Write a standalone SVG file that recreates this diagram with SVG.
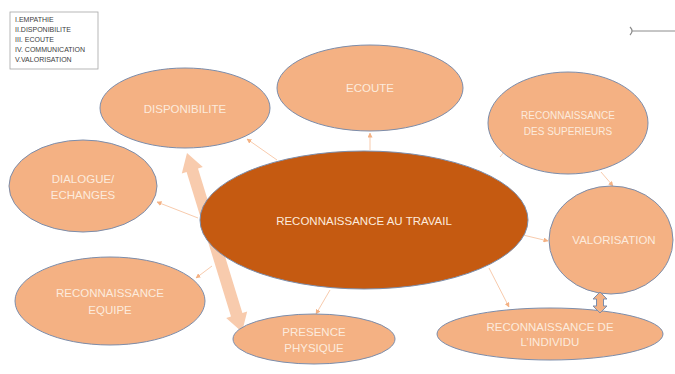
<svg xmlns="http://www.w3.org/2000/svg" width="675" height="374" viewBox="0 0 675 374">
<defs>
<style>
.node{fill:#F4B183;stroke:#7C8DAB;stroke-width:1}
.main{fill:#C55A11;stroke:#7C8DAB;stroke-width:1}
.t{font-family:"Liberation Sans",Arial,sans-serif;font-size:11.5px;fill:#FCEBDD;text-anchor:middle}
.leg{font-family:"Liberation Sans",Arial,sans-serif;font-size:7px;fill:#404040}
.con{stroke:#F8CBAD;stroke-width:1;fill:none;marker-end:url(#ah)}
</style>
<marker id="ah" viewBox="0 0 10 10" refX="9" refY="5" markerWidth="5" markerHeight="5" orient="auto" markerUnits="userSpaceOnUse">
<path d="M0,0 L10,5 L0,10 z" fill="#F4B183"/>
</marker>
</defs>
<rect width="675" height="374" fill="#FFFFFF"/>
<g id="legend">
<rect x="10" y="12" width="88" height="57" fill="#FFFFFF" stroke="#A6A6A6" stroke-width="0.8"/>
<text class="leg" x="15" y="22">I.EMPATHIE</text>
<text class="leg" x="15" y="32">II.DISPONIBILITE</text>
<text class="leg" x="15" y="42">III. ECOUTE</text>
<text class="leg" x="15" y="52">IV. COMMUNICATION</text>
<text class="leg" x="15" y="62">V.VALORISATION</text>
</g>
<g id="topline">
<line x1="632" y1="31" x2="675" y2="31" stroke="#8C8C8C" stroke-width="1"/>
<path d="M630,27 Q634,31 630,35" stroke="#8C8C8C" stroke-width="1.2" fill="none"/>
</g>
<g id="connectors">
<line class="con" x1="277" y1="160" x2="247" y2="139"/>
<line class="con" x1="198" y1="218" x2="157" y2="202"/>
<line class="con" x1="370" y1="150" x2="370" y2="133"/>
<line class="con" x1="500" y1="157" x2="520" y2="133"/>
<line class="con" x1="601" y1="172" x2="613" y2="186"/>
<line class="con" x1="523" y1="235" x2="548" y2="241"/>
<line class="con" x1="489" y1="268" x2="509" y2="307"/>
<line class="con" x1="330" y1="290" x2="316" y2="314"/>
<line class="con" x1="212" y1="266" x2="196" y2="278"/>
<path d="M187,153 L202.8,167.0 L198.0,168.4 L242.4,313.0 L247.2,311.6 L242,332 L226.2,318.0 L231.0,316.6 L186.6,172.0 L181.8,173.4 Z" fill="#F8CBAD" stroke="none"/>
</g>
<g id="n-center"><ellipse class="main" cx="364" cy="220" rx="164" ry="69"/><text class="t" x="364" y="225">RECONNAISSANCE AU TRAVAIL</text></g>
<g id="n-disponibilite"><ellipse class="node" cx="185" cy="108" rx="85" ry="40"/><text class="t" x="185" y="113">DISPONIBILITE</text></g>
<g id="n-dialogue"><ellipse class="node" cx="83" cy="186" rx="74" ry="46"/><text class="t" x="83" y="183">DIALOGUE/</text><text class="t" x="83" y="199">ECHANGES</text></g>
<g id="n-ecoute"><ellipse class="node" cx="370" cy="88" rx="93" ry="43"/><text class="t" x="370" y="92">ECOUTE</text></g>
<g id="n-superieurs"><ellipse class="node" cx="568" cy="123" rx="80" ry="51"/><text class="t" x="568" y="119" style="font-size:10px">RECONNAISSANCE</text><text class="t" x="568" y="135" style="font-size:10px">DES SUPERIEURS</text></g>
<g id="n-valorisation"><ellipse class="node" cx="611" cy="240" rx="62" ry="54"/><text class="t" x="614" y="244">VALORISATION</text></g>
<g id="n-equipe"><ellipse class="node" cx="110" cy="301" rx="95" ry="44"/><text class="t" x="110" y="297">RECONNAISSANCE</text><text class="t" x="110" y="314">EQUIPE</text></g>
<g id="n-presence"><ellipse class="node" cx="314" cy="339" rx="81" ry="25"/><text class="t" x="314" y="336">PRESENCE</text><text class="t" x="314" y="352">PHYSIQUE</text></g>
<g id="n-individu"><ellipse class="node" cx="550" cy="334" rx="113" ry="26"/><text class="t" x="550" y="331">RECONNAISSANCE DE</text><text class="t" x="550" y="346">L’INDIVIDU</text></g>
<g id="dbl-arrow">
<path d="M600,292 L607,299 L603.5,299 L603.5,306 L607,306 L600,313 L593,306 L596.5,306 L596.5,299 L593,299 Z" fill="#F4B183" stroke="#7C8DAB" stroke-width="1"/>
</g>
</svg>
